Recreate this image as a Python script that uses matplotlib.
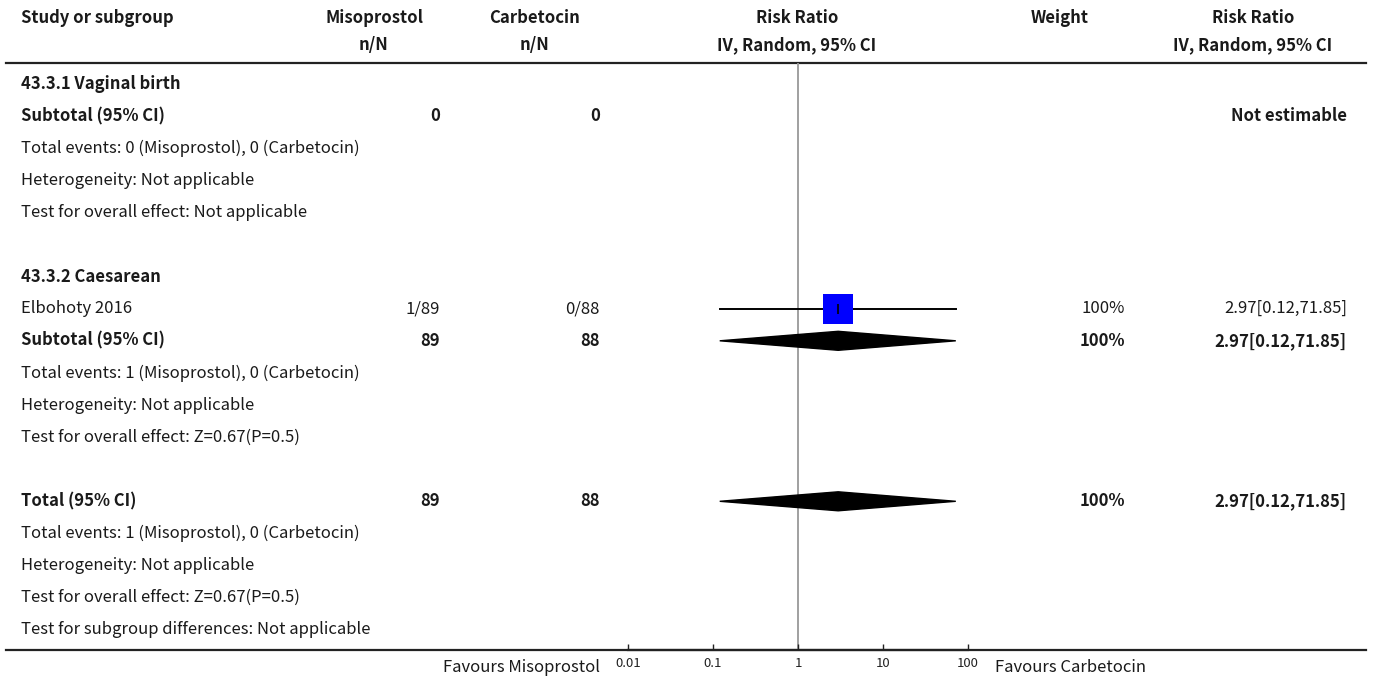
import matplotlib
matplotlib.use("Agg")
import matplotlib.pyplot as plt
from matplotlib.patches import Polygon

plt.rcParams['font.family'] = ['Noto Sans CJK SC', 'DejaVu Sans']

# ---- data ----
studies = ["Elbohoty 2016"]
miso_events = [1]
miso_total = [89]
carb_events = [0]
carb_total = [88]
study_rr = [2.97]
study_lo = [0.12]
study_hi = [71.85]
study_weight = [100]

sub2_rr, sub2_lo, sub2_hi = 2.97, 0.12, 71.85
total_rr, total_lo, total_hi = 2.97, 0.12, 71.85
axis_ticks = [0.01, 0.1, 1, 10, 100]
axis_ticklabels = ["0.01", "0.1", "1", "10", "100"]

W, H = 1375, 678
FS = 12
TXT = '#1a1a1a'

# column positions in pixels
X_LABEL = 21
X_MISO = 440
X_CARB = 600
X_WEIGHT = 1125
X_RR = 1347


def row_y(k):
    return 84 + 32.1 * k


fig = plt.figure(figsize=(W / 100, H / 100), dpi=100)
tax = fig.add_axes([0, 0, 1, 1])
tax.set_xlim(0, W)
tax.set_ylim(H, 0)
tax.axis('off')


def txt(x, y, s, ha='left', bold=False, size=FS):
    tax.text(x, y, s, ha=ha, va='center', fontsize=size,
             fontweight='bold' if bold else 'normal', color=TXT)


# header
txt(X_LABEL, 18, "Study or subgroup", bold=True)
txt(375, 18, "Misoprostol", ha='center', bold=True)
txt(374, 45, "n/N", ha='center', bold=True)
txt(535, 18, "Carbetocin", ha='center', bold=True)
txt(535, 45, "n/N", ha='center', bold=True)
txt(797, 18, "Risk Ratio", ha='center', bold=True)
txt(797, 45, "IV, Random, 95% CI", ha='center', bold=True)
txt(1060, 18, "Weight", ha='center', bold=True)
txt(1253, 18, "Risk Ratio", ha='center', bold=True)
txt(1253, 45, "IV, Random, 95% CI", ha='center', bold=True)
tax.plot([6, 1366], [63, 63], color='#222222', lw=1.6)
tax.plot([6, 1366], [650, 650], color='#222222', lw=1.6)


def fmt_ci(r, lo, hi):
    return f"{r:.2f}[{lo:.2f},{hi:.2f}]"


# subgroup 1: vaginal birth (no studies)
txt(X_LABEL, row_y(0), "43.3.1 Vaginal birth", bold=True)
txt(X_LABEL, row_y(1), "Subtotal (95% CI)", bold=True)
txt(X_MISO, row_y(1), "0", ha='right', bold=True)
txt(X_CARB, row_y(1), "0", ha='right', bold=True)
txt(X_RR, row_y(1), "Not estimable", ha='right', bold=True)
txt(X_LABEL, row_y(2), "Total events: 0 (Misoprostol), 0 (Carbetocin)")
txt(X_LABEL, row_y(3), "Heterogeneity: Not applicable")
txt(X_LABEL, row_y(4), "Test for overall effect: Not applicable")

# subgroup 2: caesarean
txt(X_LABEL, row_y(6), "43.3.2 Caesarean", bold=True)
for i, name in enumerate(studies):
    y = row_y(7 + i)
    txt(X_LABEL, y, name)
    txt(X_MISO, y, f"{miso_events[i]}/{miso_total[i]}", ha='right')
    txt(X_CARB, y, f"{carb_events[i]}/{carb_total[i]}", ha='right')
    txt(X_WEIGHT, y, f"{study_weight[i]}%", ha='right')
    txt(X_RR, y, fmt_ci(study_rr[i], study_lo[i], study_hi[i]), ha='right')

y = row_y(8)
txt(X_LABEL, y, "Subtotal (95% CI)", bold=True)
txt(X_MISO, y, str(sum(miso_total)), ha='right', bold=True)
txt(X_CARB, y, str(sum(carb_total)), ha='right', bold=True)
txt(X_WEIGHT, y, f"{sum(study_weight)}%", ha='right', bold=True)
txt(X_RR, y, fmt_ci(sub2_rr, sub2_lo, sub2_hi), ha='right', bold=True)
txt(X_LABEL, row_y(9), f"Total events: {sum(miso_events)} (Misoprostol), {sum(carb_events)} (Carbetocin)")
txt(X_LABEL, row_y(10), "Heterogeneity: Not applicable")
txt(X_LABEL, row_y(11), "Test for overall effect: Z=0.67(P=0.5)")

# overall
y = row_y(13)
txt(X_LABEL, y, "Total (95% CI)", bold=True)
txt(X_MISO, y, str(sum(miso_total)), ha='right', bold=True)
txt(X_CARB, y, str(sum(carb_total)), ha='right', bold=True)
txt(X_WEIGHT, y, f"{sum(study_weight)}%", ha='right', bold=True)
txt(X_RR, y, fmt_ci(total_rr, total_lo, total_hi), ha='right', bold=True)
txt(X_LABEL, row_y(14), f"Total events: {sum(miso_events)} (Misoprostol), {sum(carb_events)} (Carbetocin)")
txt(X_LABEL, row_y(15), "Heterogeneity: Not applicable")
txt(X_LABEL, row_y(16), "Test for overall effect: Z=0.67(P=0.5)")
txt(X_LABEL, row_y(17), "Test for subgroup differences: Not applicable")

txt(600, 667, "Favours Misoprostol", ha='right')
txt(995, 667, "Favours Carbetocin")

# ---- forest plot axes (log scale) ----
top, bot = 63, 650
fax = fig.add_axes([628 / W, (H - bot) / H, 340 / W, (bot - top) / H])
fax.patch.set_alpha(0)
fax.set_xscale('log')
fax.set_xlim(0.01, 100)
fax.set_ylim(bot, top)
for s in ['top', 'left', 'right']:
    fax.spines[s].set_visible(False)
fax.spines['bottom'].set_linewidth(1.6)
fax.spines['bottom'].set_color('#222222')
fax.set_yticks([])
fax.set_xticks(axis_ticks)
fax.set_xticklabels(axis_ticklabels)
fax.minorticks_off()
fax.tick_params(axis='x', direction='in', length=4, width=1, labelsize=9.5,
                colors='#222222', pad=5)
fax.axvline(1, color='#999999', lw=1.3, zorder=1)

for i in range(len(studies)):
    y = row_y(7 + i)
    fax.plot([study_lo[i], study_hi[i]], [y, y], color='black', lw=1.4, zorder=2)
    fax.plot(study_rr[i], y, marker='s', markersize=22.3, color='#0000ff',
             markeredgewidth=0, zorder=3)
    fax.plot(study_rr[i], y, marker='|', markersize=7, color='black',
             markeredgewidth=1.2, zorder=4)


def diamond(rr, lo, hi, y, h=9.5):
    fax.add_patch(Polygon([(lo, y), (rr, y - h), (hi, y), (rr, y + h)],
                          closed=True, color='black', zorder=3))


diamond(sub2_rr, sub2_lo, sub2_hi, row_y(8))
diamond(total_rr, total_lo, total_hi, row_y(13))

fig.savefig("out.png", dpi=100)
